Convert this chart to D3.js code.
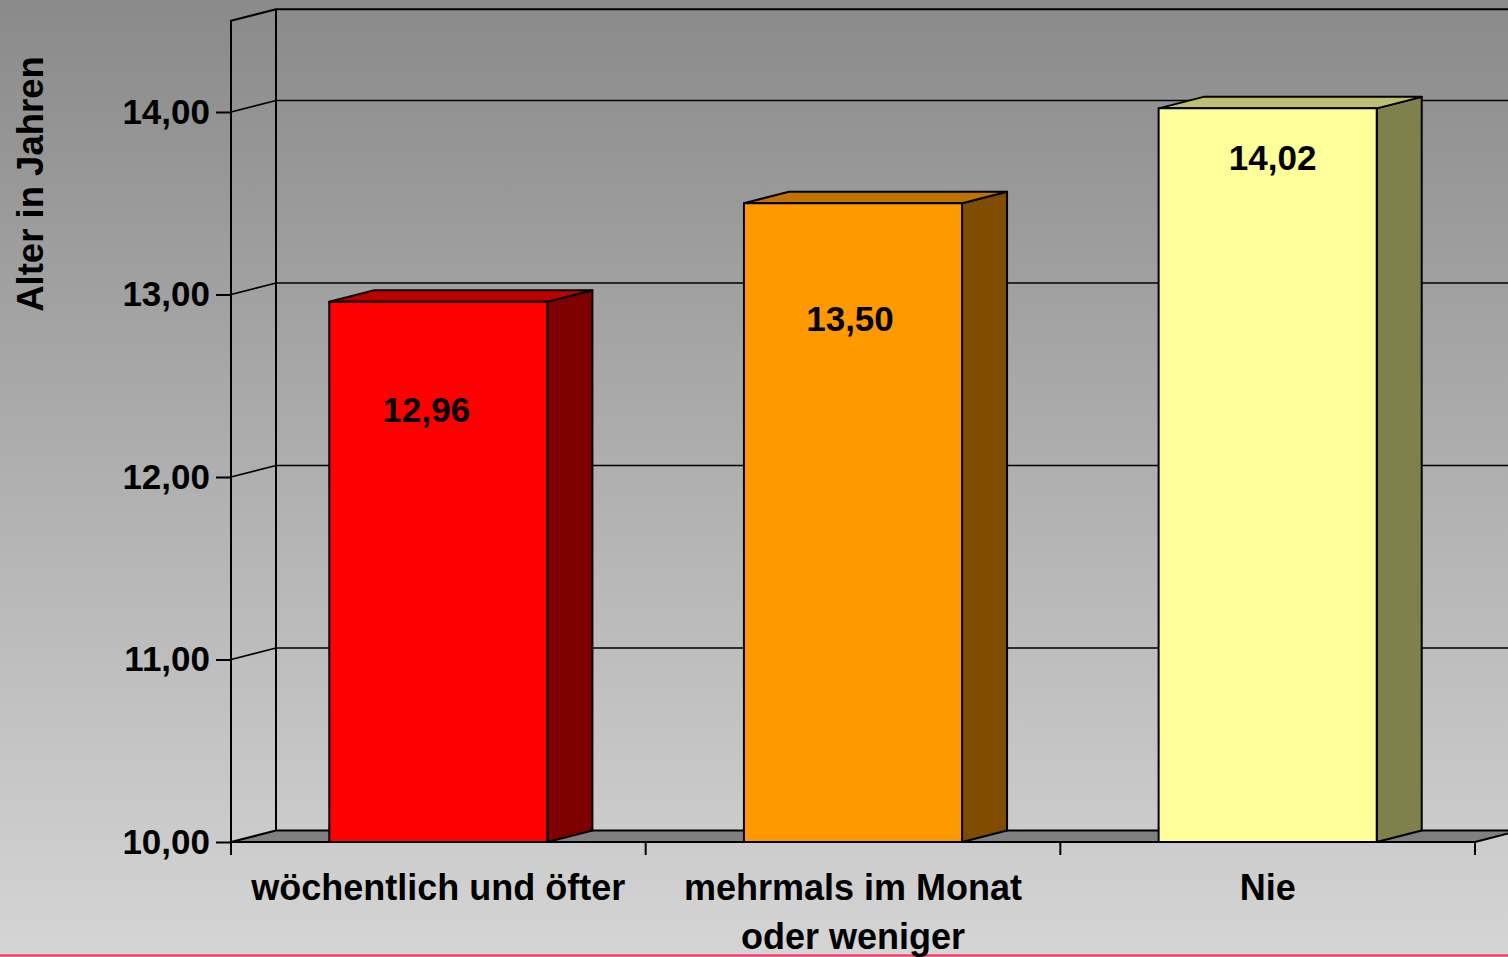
<!DOCTYPE html>
<html>
<head>
<meta charset="utf-8">
<script src="https://cdn.jsdelivr.net/npm/d3@7"></script>
<style>
  html, body { margin: 0; padding: 0; overflow: hidden; }
  svg { display: block; font-family: "Liberation Sans", Arial, sans-serif; }
</style>
</head>
<body>
<svg width="1508" height="957"></svg>
<script>
// **** data ****
var categories = ['wöchentlich und öfter', 'mehrmals im Monat|oder weniger', 'Nie'];
var values = [12.96, 13.50, 14.02];
var valueLabels = ['12,96', '13,50', '14,02'];
var yTicks = [10, 11, 12, 13, 14];
var fronts = ['#ff0000', '#ff9900', '#ffff99'];
var tops = ['#bf0000', '#bf7300', '#bfbf73'];
var sides = ['#800000', '#804c00', '#80804c'];

// where each value label sits: height in axis units, small sideways nudge in px
var labelAt = [12.37, 12.87, 13.75];
var labelShift = [-12, -3, 5];

var svg = d3.select('svg');

// depth offset of the 3D box
var dx = 45, dy = -11.5;

var yScale = d3.scaleLinear().domain([10, 14.5]).range([842, 20.75]);
var xScale = d3.scaleBand().domain(categories).range([231, 1475])
    .paddingInner(0.474).paddingOuter(0.237);

var x0 = 231, x1 = 1475, yb = yScale(10), ytop = yScale(14.5);

// background
var defs = svg.append('defs');
var grad = defs.append('linearGradient').attr('id', 'bg')
    .attr('x1', 0).attr('y1', 0).attr('x2', 0).attr('y2', 1);
grad.append('stop').attr('offset', 0).attr('stop-color', '#8a8a8a');
grad.append('stop').attr('offset', 1).attr('stop-color', '#d5d5d5');
svg.append('rect').attr('width', 1508).attr('height', 957).attr('fill', 'url(#bg)');

// bottom pink rule
svg.append('line').attr('x1', 0).attr('x2', 1508).attr('y1', 955.5).attr('y2', 955.5)
    .attr('stroke', '#e8466e').attr('stroke-width', 2.5);

// gridlines: diagonal on left wall, then horizontal on back wall
var walls = svg.append('g').attr('stroke', '#000').attr('fill', 'none');
yTicks.filter(function (d) { return d > 10; }).forEach(function (t) {
    var y = yScale(t);
    walls.append('path')
        .attr('d', 'M' + x0 + ',' + y + 'L' + (x0 + dx) + ',' + (y + dy) + 'L' + (x1 + dx) + ',' + (y + dy))
        .attr('stroke-width', 1.6);
});

// walls outline
walls.append('path')
    .attr('d', 'M' + x0 + ',' + (yb + 13) + 'L' + x0 + ',' + ytop + 'L' + (x0 + dx) + ',' + (ytop + dy) +
        'L' + (x1 + dx) + ',' + (ytop + dy))
    .attr('stroke-width', 2);
walls.append('line')
    .attr('x1', x0 + dx).attr('x2', x0 + dx).attr('y1', ytop + dy).attr('y2', yb + dy)
    .attr('stroke-width', 2);

// floor
svg.append('path')
    .attr('d', 'M' + x0 + ',' + yb + 'L' + x1 + ',' + yb + 'L' + (x1 + dx) + ',' + (yb + dy) +
        'L' + (x0 + dx) + ',' + (yb + dy) + 'Z')
    .attr('fill', '#808080').attr('stroke', '#000').attr('stroke-width', 2)
    .attr('stroke-linejoin', 'round');

// y axis ticks and labels
var yAxis = svg.append('g')
    .attr('transform', 'translate(' + x0 + ',0)')
    .call(d3.axisLeft(yScale).tickValues(yTicks).tickSize(15).tickPadding(6)
        .tickFormat(function (d) { return d.toFixed(2).replace('.', ','); }));
yAxis.select('.domain').remove();
yAxis.selectAll('line').attr('stroke', '#000').attr('stroke-width', 2);
yAxis.selectAll('text')
    .attr('fill', '#000')
    .style('font-size', '35px')
    .style('font-weight', 'bold')
    .style('font-family', '"Liberation Sans", Arial, sans-serif');

// category ticks under the floor
var step = xScale.step();
d3.range(categories.length + 1).forEach(function (i) {
    var x = x0 + i * step;
    svg.append('line').attr('x1', x).attr('x2', x).attr('y1', yb).attr('y2', yb + 13)
        .attr('stroke', '#000').attr('stroke-width', 2);
});

// bars
var bars = svg.append('g').selectAll('g')
    .data(values)
    .enter()
    .append('g')
    .attr('stroke', '#000').attr('stroke-width', 2).attr('stroke-linejoin', 'round');

bars.append('path')
    .attr('d', function (d, i) {
        var x = xScale(categories[i]), w = xScale.bandwidth(), yt = yScale(d);
        return 'M' + (x + w) + ',' + yt + 'L' + (x + w + dx) + ',' + (yt + dy) +
            'L' + (x + w + dx) + ',' + (yb + dy) + 'L' + (x + w) + ',' + yb + 'Z';
    })
    .attr('fill', function (d, i) { return sides[i]; });

bars.append('path')
    .attr('d', function (d, i) {
        var x = xScale(categories[i]), w = xScale.bandwidth(), yt = yScale(d);
        return 'M' + x + ',' + yt + 'L' + (x + dx) + ',' + (yt + dy) +
            'L' + (x + w + dx) + ',' + (yt + dy) + 'L' + (x + w) + ',' + yt + 'Z';
    })
    .attr('fill', function (d, i) { return tops[i]; });

bars.append('rect')
    .attr('x', function (d, i) { return xScale(categories[i]); })
    .attr('y', function (d) { return yScale(d); })
    .attr('width', xScale.bandwidth())
    .attr('height', function (d) { return yb - yScale(d); })
    .attr('fill', function (d, i) { return fronts[i]; });

// value labels
svg.append('g').selectAll('text')
    .data(valueLabels)
    .enter()
    .append('text')
    .attr('x', function (d, i) { return xScale(categories[i]) + xScale.bandwidth() / 2 + labelShift[i]; })
    .attr('y', function (d, i) { return yScale(labelAt[i]); })
    .attr('text-anchor', 'middle')
    .attr('dominant-baseline', 'central')
    .style('font-size', '35px')
    .style('font-weight', 'bold')
    .text(function (d) { return d; });

// category labels
categories.forEach(function (c) {
    var t = svg.append('text')
        .attr('text-anchor', 'middle')
        .style('font-size', '36px')
        .style('font-weight', 'bold');
    c.split('|').forEach(function (line, j) {
        t.append('tspan')
            .attr('x', xScale(c) + xScale.bandwidth() / 2)
            .attr('y', 900 + j * 49)
            .text(line);
    });
});

// y axis title
svg.append('text')
    .attr('transform', 'translate(43,184) rotate(-90)')
    .attr('text-anchor', 'middle')
    .style('font-size', '36.5px')
    .style('font-weight', 'bold')
    .text('Alter in Jahren');
</script>
</body>
</html>
